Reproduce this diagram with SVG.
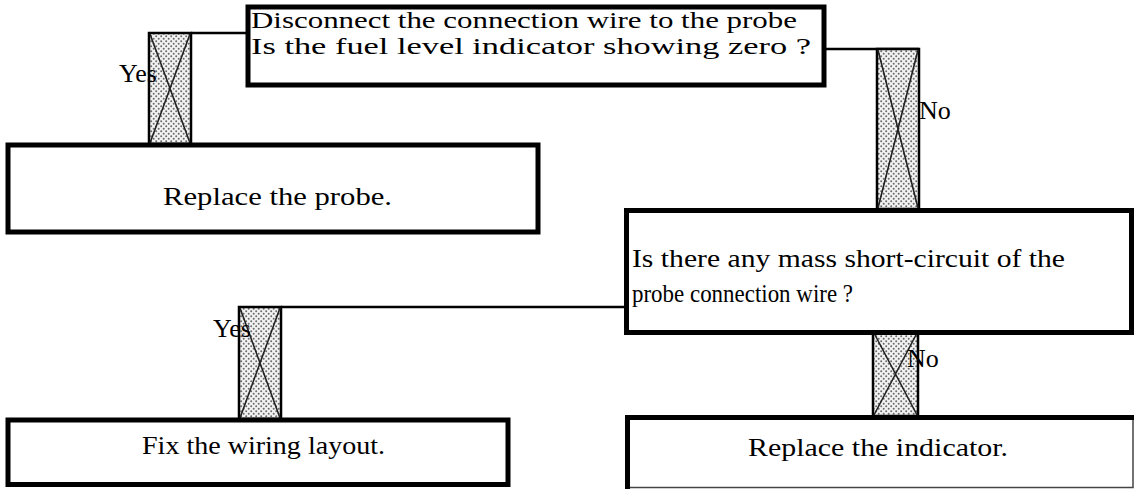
<svg xmlns="http://www.w3.org/2000/svg" width="1135" height="489" viewBox="0 0 1135 489">
  <defs>
    <!-- dotted screen used inside the yes/no bars -->
    <pattern id="dots" width="5" height="5" patternUnits="userSpaceOnUse">
      <rect width="5" height="5" fill="#f2f2f2"/>
      <circle cx="1.2" cy="1.2" r="1" fill="#6a6a6a"/>
      <circle cx="3.7" cy="3.7" r="1" fill="#6a6a6a"/>
    </pattern>
    <style>
      .box { fill: #fff; stroke: #000; stroke-width: 5; }
      .wire { stroke: #000; stroke-width: 2.5; fill: none; }
      .bar { fill: url(#dots); stroke: #000; stroke-width: 2.5; }
      .cross { stroke: #222; stroke-width: 1.6; fill: none; }
      .t { font-family: "Liberation Serif", "Times New Roman", serif; font-size: 26px; fill: #000; }
      .t.tight { font-size: 23px; }
    </style>
  </defs>

  <rect width="1135" height="489" fill="#fff"/>

  <!-- connectors with yes/no bars -->
  <g id="connectors">
    <line class="wire" x1="191" y1="33" x2="248" y2="33"/>
    <line class="wire" x1="824" y1="49" x2="919" y2="49"/>
    <line class="wire" x1="281" y1="307" x2="626" y2="307"/>

    <rect class="bar" x="149" y="33" width="42" height="111"/>
    <path class="cross" d="M150 34 L190 143 M190 34 L150 143"/>

    <rect class="bar" x="877" y="49" width="42" height="160"/>
    <path class="cross" d="M878 50 L918 208 M918 50 L878 208"/>

    <rect class="bar" x="239" y="307" width="42" height="112"/>
    <path class="cross" d="M240 308 L280 418 M280 308 L240 418"/>

    <rect class="bar" x="873" y="332" width="45" height="84"/>
    <path class="cross" d="M874 333 L917 415 M917 333 L874 415"/>

    <text class="t" x="119" y="82">Yes</text>
    <text class="t" x="919" y="119">No</text>
    <text class="t" x="213" y="337">Yes</text>
    <text class="t" x="907" y="367">No</text>
  </g>

  <g id="q-fuel-zero">
    <rect class="box" x="248" y="7" width="576" height="78"/>
    <text class="t tight" x="251" y="28" textLength="546" lengthAdjust="spacingAndGlyphs">Disconnect the connection wire to the probe</text>
    <text class="t tight" x="251" y="54" textLength="560" lengthAdjust="spacingAndGlyphs">Is the fuel level indicator showing zero ?</text>
  </g>

  <g id="replace-probe">
    <rect class="box" x="8" y="145" width="530" height="87"/>
    <text class="t" x="163" y="205" textLength="229" lengthAdjust="spacingAndGlyphs">Replace the probe.</text>
  </g>

  <g id="q-short-circuit">
    <rect class="box" x="626.5" y="210.5" width="505" height="122"/>
    <text class="t" x="632" y="267" textLength="433" lengthAdjust="spacingAndGlyphs">Is there any mass short-circuit of the</text>
    <text class="t" x="632" y="302" textLength="221" lengthAdjust="spacingAndGlyphs">probe connection wire ?</text>
  </g>

  <g id="fix-wiring">
    <rect class="box" x="8" y="420" width="500" height="64.5"/>
    <text class="t" x="142" y="454" textLength="243" lengthAdjust="spacingAndGlyphs">Fix the wiring layout.</text>
  </g>

  <g id="replace-indicator">
    <rect x="628" y="417.5" width="505" height="70" fill="#fff" stroke="#444" stroke-width="1.5"/>
    <path d="M627.5 489 V417.5 H1134" fill="none" stroke="#000" stroke-width="5"/>
    <text class="t" x="748" y="456" textLength="260" lengthAdjust="spacingAndGlyphs">Replace the indicator.</text>
  </g>
</svg>
